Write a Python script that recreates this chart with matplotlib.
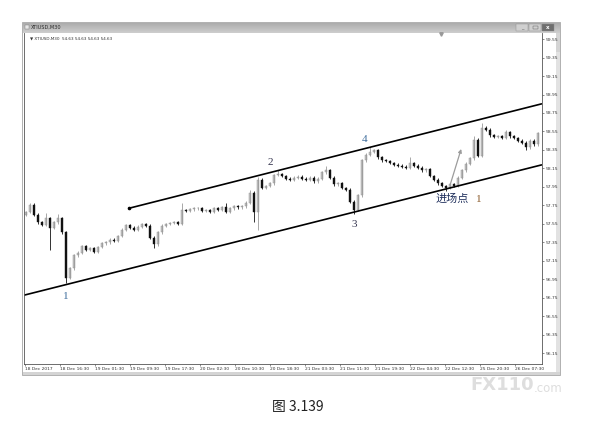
import numpy as np
import matplotlib.pyplot as plt
from matplotlib.patches import Rectangle

# closing prices, XTIUSD M30
closes = [
    57.68, 57.76, 57.65, 57.57, 57.54, 57.61, 57.51, 57.57, 57.61, 57.46,
    56.97, 57.07, 57.21, 57.24, 57.31, 57.27, 57.29, 57.25, 57.30, 57.34,
    57.35, 57.38, 57.37, 57.42, 57.49, 57.54, 57.51, 57.49, 57.52, 57.55,
    57.53, 57.40, 57.33, 57.46, 57.53, 57.55, 57.56, 57.57, 57.55, 57.70,
    57.69, 57.71, 57.72, 57.72, 57.69, 57.70, 57.68, 57.72, 57.70, 57.73,
    57.68, 57.72, 57.74, 57.73, 57.74, 57.78, 57.89, 57.68, 58.03, 57.94,
    57.96, 57.99, 58.08, 58.09, 58.07, 58.04, 58.03, 58.05, 58.06, 58.04,
    58.03, 58.05, 58.01, 58.04, 58.11, 58.13, 58.05, 57.98, 57.99, 57.94,
    57.92, 57.79, 57.70, 57.86, 58.24, 58.30, 58.33, 58.35, 58.27, 58.24,
    58.23, 58.21, 58.19, 58.18, 58.17, 58.16, 58.21, 58.18, 58.16, 58.13,
    58.14, 58.07, 58.03, 57.99, 57.96, 57.94, 57.98, 57.96, 58.05, 58.13,
    58.20, 58.26, 58.46, 58.29, 58.59, 58.57, 58.51, 58.49, 58.50, 58.48,
    58.54, 58.50, 58.48, 58.45, 58.43, 58.38, 58.45, 58.41, 58.53,
]
first_open = 57.65

# bars with long wicks
spike_highs = {1: 57.78, 5: 57.67, 8: 57.66, 39: 57.78, 50: 57.78, 56: 57.92,
               58: 58.06, 63: 58.13, 75: 58.18, 86: 58.38, 96: 58.27,
               112: 58.50, 114: 58.64, 120: 58.57}
spike_lows = {6: 57.27, 10: 56.91, 32: 57.29, 57: 57.57, 58: 57.49,
              82: 57.66, 105: 57.91, 125: 58.35}

date_labels = ["18 Dec 2017", "18 Dec 16:30", "19 Dec 01:30", "19 Dec 09:30",
               "19 Dec 17:30", "20 Dec 02:30", "20 Dec 10:30", "20 Dec 18:30",
               "21 Dec 03:30", "21 Dec 11:30", "21 Dec 19:30", "22 Dec 04:30",
               "22 Dec 12:30", "25 Dec 20:30", "26 Dec 07:30"]
price_ticks = [56.15, 56.35, 56.55, 56.75, 56.95, 57.15, 57.35, 57.55, 57.75,
               57.95, 58.15, 58.35, 58.55, 58.75, 58.95, 59.15, 59.35, 59.55]

# trend lines: (bar, price) anchors
lower_line = ([-0.5, 129.0], [56.78, 58.19])
upper_line = ([25.75, 129.0], [57.72, 58.85])

# wave points
wave_labels = ["1", "2", "3", "4"]
wave_x = [10, 61, 82, 84.7]
wave_y = [56.77, 58.21, 57.54, 58.46]
wave_colors = ["#3d6c9c", "#34344e", "#34344e", "#3d6c9c"]

W, H = 597, 421
fig = plt.figure(figsize=(W / 100, H / 100), dpi=100)
fig.patch.set_facecolor("white")

# window chrome drawn in pixel coordinates
bg = fig.add_axes([0, 0, 1, 1])
bg.set_xlim(0, W)
bg.set_ylim(H, 0)
bg.axis("off")
bg.add_patch(Rectangle((22, 22), 538, 353, fc="#d4d4d4", ec="#a8a8a8", lw=0.6))
for k, c in enumerate(np.linspace(0.68, 0.80, 10)):
    bg.add_patch(Rectangle((22.5, 22.5 + k), 537, 1.05, fc=str(c), ec="none"))
bg.add_patch(Rectangle((23, 33), 533, 339, fc="white", ec="none"))
bg.add_patch(Rectangle((556, 52), 3.5, 320, fc="#e2e2e2", ec="none"))
bg.text(31, 27.5, "XTIUSD,M30", fontsize=3.6, color="#2a2a2a", va="center")
bg.add_patch(Rectangle((24.5, 25), 4, 4, fc="#e8e8e8", ec="#777777", lw=0.3))
for bx, fc in [(516, "#d0d0d0"), (529, "#d0d0d0"), (542, "#6e6e6e")]:
    bg.add_patch(Rectangle((bx, 24), 12, 7, fc=fc, ec="#8c8c8c", lw=0.3))
bg.text(548, 27.5, "x", fontsize=4, color="white", ha="center", va="center",
        fontweight="bold")
bg.text(522, 27.5, "_", fontsize=3.5, color="#555555", ha="center", va="center")
bg.add_patch(Rectangle((532.5, 25.8), 5, 3.6, fc="none", ec="#555555", lw=0.3))

# watermark and caption
bg.text(502, 385, "FX110", fontsize=13, fontweight="bold", color="#dedede",
        ha="center", va="center")
bg.text(534, 388, ".com", fontsize=8.5, color="#dedede", ha="left",
        va="center")
bg.text(298, 407, "图 3.139", fontsize=10, fontweight="medium",
        family=["Noto Sans CJK SC", "DejaVu Sans"], color="#222222",
        ha="center", va="center")

# price chart
ax = fig.add_axes([24 / W, 1 - 364 / H, (542 - 24) / W, (364 - 33) / H])
ax.set_facecolor("white")
x = np.arange(len(closes))
c = np.array(closes)
o = np.concatenate([[first_open], c[:-1]])
hi = np.maximum(o, c) + 0.015
lo = np.minimum(o, c) - 0.015
for i, v in spike_highs.items():
    hi[i] = v
for i, v in spike_lows.items():
    lo[i] = v
up = c >= o
ax.vlines(x, lo, hi, colors=np.where(up, "#9a9a9a", "#111111"), lw=0.6)
body = np.maximum(np.abs(c - o), 0.008)
ax.bar(x[up], body[up], bottom=o[up], width=0.45, color="#c4c4c4",
       edgecolor="#8a8a8a", lw=0.3)
ax.bar(x[~up], body[~up], bottom=c[~up], width=0.45, color="#111111",
       edgecolor="#111111", lw=0.3)

ax.plot(lower_line[0], lower_line[1], color="black", lw=1.2,
        solid_capstyle="butt")
ax.plot(upper_line[0], upper_line[1], color="black", lw=1.2,
        solid_capstyle="butt")
ax.plot(upper_line[0][0], upper_line[1][0], "o", color="black", ms=1.6)

for lab, lx, ly, col in zip(wave_labels, wave_x, wave_y, wave_colors):
    ax.text(lx, ly, lab, fontsize=8, color=col, ha="center", va="center",
            family="Liberation Serif")
ax.text(106.5, 57.82, "进场点", fontsize=8, color="#1f2f5c", ha="center",
        va="center", family=["Noto Sans CJK SC", "DejaVu Sans"])
ax.text(113.2, 57.82, "1", fontsize=8, color="#8a5a2a", ha="center",
        va="center", family="Liberation Serif")
ax.annotate("", xy=(109, 58.39), xytext=(105.8, 57.94),
            arrowprops=dict(arrowstyle="-|>", color="#9c9c9c", lw=0.9,
                            mutation_scale=5))
ax.text(1, 59.56, "\u25bc XTIUSD,M30  54.63 54.63 54.63 54.63", fontsize=3,
        color="#333333", va="center")
ax.plot(103.8, 59.6, marker="v", color="#999999", ms=2.5, clip_on=False)

ax.set_xlim(-0.5, 129.0)
ax.set_ylim(56.036, 59.615)
ax.yaxis.tick_right()
ax.set_yticks(price_ticks)
ax.set_yticklabels([f"{p:.2f}" for p in price_ticks])
tick_pos = np.arange(len(date_labels)) * 8.75 - 0.25
ax.set_xticks(tick_pos)
ax.set_xticklabels(date_labels, ha="left")
ax.tick_params(axis="both", labelsize=3.2, length=1.5, width=0.4,
               colors="#333333", pad=1)
for s in ["left", "bottom", "right"]:
    ax.spines[s].set_linewidth(0.6)
    ax.spines[s].set_color("#555555")
ax.spines["top"].set_visible(False)

fig.savefig("out.png", dpi=100)
